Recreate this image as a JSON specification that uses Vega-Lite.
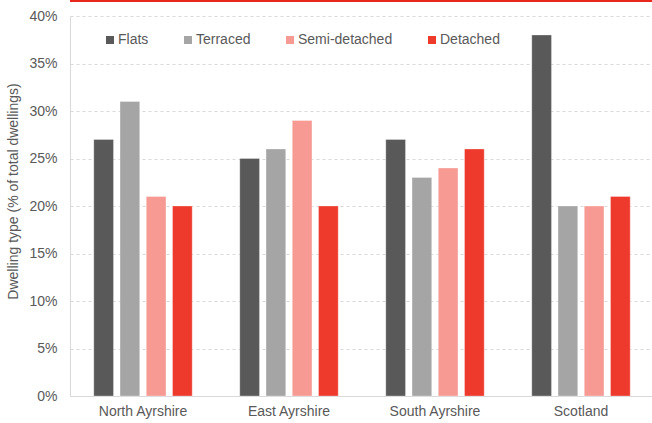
{
  "$schema": "https://vega.github.io/schema/vega-lite/v6.json",
  "autosize": {"type": "none"},
  "padding": {"left": 70, "top": 16, "right": 0, "bottom": 27},
  "width": 584,
  "height": 380,
  "background": "white",
  "config": {
    "font": "Liberation Sans",
    "view": {"stroke": null},
    "axis": {"labelFont": "Liberation Sans", "titleFont": "Liberation Sans"},
    "legend": {"labelFont": "Liberation Sans"}
  },
  "data": {
    "values": [
      {"area": "North Ayrshire", "type": "Flats", "value": 0.27},
      {"area": "North Ayrshire", "type": "Terraced", "value": 0.31},
      {"area": "North Ayrshire", "type": "Semi-detached", "value": 0.21},
      {"area": "North Ayrshire", "type": "Detached", "value": 0.20},
      {"area": "East Ayrshire", "type": "Flats", "value": 0.25},
      {"area": "East Ayrshire", "type": "Terraced", "value": 0.26},
      {"area": "East Ayrshire", "type": "Semi-detached", "value": 0.29},
      {"area": "East Ayrshire", "type": "Detached", "value": 0.20},
      {"area": "South Ayrshire", "type": "Flats", "value": 0.27},
      {"area": "South Ayrshire", "type": "Terraced", "value": 0.23},
      {"area": "South Ayrshire", "type": "Semi-detached", "value": 0.24},
      {"area": "South Ayrshire", "type": "Detached", "value": 0.26},
      {"area": "Scotland", "type": "Flats", "value": 0.38},
      {"area": "Scotland", "type": "Terraced", "value": 0.20},
      {"area": "Scotland", "type": "Semi-detached", "value": 0.20},
      {"area": "Scotland", "type": "Detached", "value": 0.21}
    ]
  },
  "layer": [
    {
      "mark": {"type": "bar", "stroke": "white", "strokeWidth": 0.5, "strokeOpacity": 0.6},
      "encoding": {
        "x": {
          "field": "area",
          "type": "nominal",
          "sort": ["North Ayrshire", "East Ayrshire", "South Ayrshire", "Scotland"],
          "scale": {"paddingInner": 0.29, "paddingOuter": 0.145},
          "axis": {
            "title": null,
            "labelAngle": 0,
            "ticks": false,
            "domainColor": "#d9d9d9",
            "labelColor": "#595959",
            "labelFontSize": 14,
            "labelPadding": 8
          }
        },
        "xOffset": {
          "field": "type",
          "type": "nominal",
          "sort": ["Flats", "Terraced", "Semi-detached", "Detached"],
          "scale": {"paddingInner": 0.25, "paddingOuter": 0.1}
        },
        "y": {
          "field": "value",
          "type": "quantitative",
          "scale": {"domain": [0, 0.4]},
          "axis": {
            "title": "Dwelling type (% of total dwellings)",
            "titleColor": "#595959",
            "titleFontSize": 14,
            "titleFontWeight": "normal",
            "titlePadding": 8,
            "titleY": 175,
            "format": ".0%",
            "values": [0, 0.05, 0.1, 0.15, 0.2, 0.25, 0.3, 0.35, 0.4],
            "labelOverlap": false,
            "ticks": false,
            "domainColor": "#d9d9d9",
            "gridColor": "#d9d9d9",
            "gridDash": [3, 3],
            "labelColor": "#595959",
            "labelFontSize": 14,
            "labelPadding": 13
          }
        },
        "color": {
          "field": "type",
          "type": "nominal",
          "sort": ["Flats", "Terraced", "Semi-detached", "Detached"],
          "scale": {
            "domain": ["Flats", "Terraced", "Semi-detached", "Detached"],
            "range": ["#595959", "#a5a5a5", "#f79a93", "#ee3a2d"]
          },
          "legend": {
            "title": null,
            "orient": "none",
            "legendX": 33,
            "legendY": 17,
            "direction": "horizontal",
            "symbolType": "square",
            "symbolSize": 64,
            "symbolStrokeWidth": 0,
            "labelColor": "#595959",
            "labelFontSize": 14,
            "labelOffset": 1,
            "columnPadding": 32
          }
        }
      }
    },
    {
      "mark": {"type": "rule", "color": "#e8281c", "strokeWidth": 2, "clip": false},
      "encoding": {"y": {"datum": 0.4163}}
    }
  ]
}
